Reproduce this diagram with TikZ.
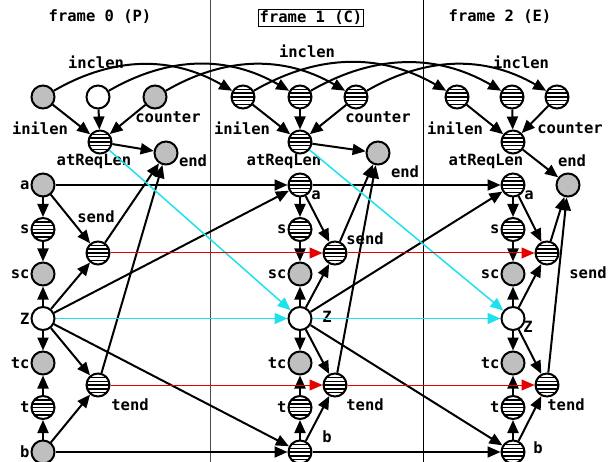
\documentclass[tikz,border=0pt]{standalone}
\usepackage{fontspec}
\setmonofont{DejaVu Sans Mono}
\usetikzlibrary{arrows.meta, positioning}

\definecolor{zcyan}{RGB}{30,225,235}
\definecolor{evred}{RGB}{230,0,0}

\tikzset{
  var/.style = {draw, circle, minimum size = 23pt, inner sep = 0pt, line width = 2pt},
  obs/.style = {var, fill = black!25},
  free/.style = {var, fill = white},
  hid/.style = {var, fill = white, path picture = {
      \foreach \dy in {-7.5, -3.75, 0, 3.75, 7.5}
        \draw [-, line width = 1.5pt] ([yshift = \dy pt] path picture bounding box.west) -- ([yshift = \dy pt] path picture bounding box.east);
    }},
  lbl/.style = {inner sep = 0pt, font = \ttfamily\bfseries\fontsize{15.5}{16}\selectfont},
  persist/.style = {out = 30, in = 150},
  zlink/.style = {zcyan, line width = 1.5pt},
  evlink/.style = {evred, line width = 1pt}
}

\begin{document}
\begin{tikzpicture} [x = 1pt, y = -1pt, -> , >= {Triangle[length = 13pt, width = 11pt]}, line width = 2pt, node distance = 44.5pt]

\useasboundingbox (0,0) rectangle (610,462);

% frame borders
\draw [-, line width = 1pt, black!70] (210,0) -- (210,462);
\draw [-, line width = 1pt] (423,0) -- (423,462);

\node [lbl] (title0) at (100,17) {frame 0 (P)};
\node [lbl, draw, line width = 1pt, inner sep = 1.5pt] (title1) at (311,18) {frame 1 (C)};
\node [lbl] (title2) at (500,17) {frame 2 (E)};

%% frame 0
\node [obs] (inilen0) at (43,97) {};
\node [free] (inclen0) at (98,97) {};
\node [obs] (counter0) at (155,97) {};
\node [hid] (atReqLen0) at (100,142) {};
\node [obs] (end0) at (166,153) {};

\node [obs] (a0) at (43,185) {};
\node [hid] (s0) [below of = a0] {};
\node [obs] (sc0) [below of = s0] {};
\node [free] (Z0) [below of = sc0] {};
\node [obs] (tc0) [below of = Z0] {};
\node [hid] (t0) [below of = tc0] {};
\node [obs] (b0) [below of = t0] {};
\node [hid] (send0) at (98,253) {};
\node [hid] (tend0) at (98,385) {};

%% frame 1
\node [hid] (inilen1) at (243,97) {};
\node [hid] (inclen1) at (300,97) {};
\node [hid] (counter1) at (356,97) {};
\node [hid] (atReqLen1) at (300,142) {};
\node [obs] (end1) at (378,153) {};

\node [hid] (a1) at (300,185) {};
\node [hid] (s1) [below of = a1] {};
\node [obs] (sc1) [below of = s1] {};
\node [free] (Z1) [below of = sc1] {};
\node [obs] (tc1) [below of = Z1] {};
\node [hid] (t1) [below of = tc1] {};
\node [hid] (b1) [below of = t1] {};
\node [hid] (send1) at (335,253) {};
\node [hid] (tend1) at (335,385) {};

%% frame 2
\node [hid] (inilen2) at (457,97) {};
\node [hid] (inclen2) at (512,97) {};
\node [hid] (counter2) at (557,97) {};
\node [hid] (atReqLen2) at (513,142) {};
\node [obs] (end2) at (568,185) {};

\node [hid] (a2) at (513,185) {};
\node [hid] (s2) [below of = a2] {};
\node [obs] (sc2) [below of = s2] {};
\node [free] (Z2) [below of = sc2] {};
\node [obs] (tc2) [below of = Z2] {};
\node [hid] (t2) [below of = tc2] {};
\node [hid] (b2) [below of = t2] {};
\node [hid] (send2) at (547,253) {};
\node [hid] (tend2) at (547,385) {};

%% labels
\node [lbl] (linclen0) at (96,62) {inclen};
\node [lbl] (linilen0) at (40,128) {inilen};
\node [lbl] (lcounter0) at (168,117) {counter};
\node [lbl] (latReqLen0) at (94,161) {atReqLen};
\node [lbl] (lend0) at (193,161) {end};
\node [lbl] (lsend0) at (96,217) {send};
\node [lbl] (ltend0) at (130,405) {tend};
\node [lbl] (la0) [left = 0pt of a0] {a};
\node [lbl] (ls0) [left = 0pt of s0] {s};
\node [lbl] (lsc0) [left = 0pt of sc0] {sc};
\node [lbl] (lZ0) [left = 0pt of Z0] {Z};
\node [lbl] (ltc0) [left = 0pt of tc0] {tc};
\node [lbl] (lt0) [left = 0pt of t0] {t};
\node [lbl] (lb0) [left = 0pt of b0] {b};

\node [lbl] (linclen1) at (307,51) {inclen};
\node [lbl] (linilen1) at (242,128) {inilen};
\node [lbl] (lcounter1) at (378,117) {counter};
\node [lbl] (latReqLen1) at (284,161) {atReqLen};
\node [lbl] (lend1) at (405,172) {end};
\node [lbl] (lsend1) at (365,239) {send};
\node [lbl] (ltend1) at (365,405) {tend};
\node [lbl] (la1) at (316,195) {a};
\node [lbl] (ls1) [left = 0pt of s1] {s};
\node [lbl] (lsc1) [left = 0pt of sc1] {sc};
\node [lbl] (lZ1) at (327,317) {Z};
\node [lbl] (ltc1) [left = 0pt of tc1] {tc};
\node [lbl] (lt1) [left = 0pt of t1] {t};
\node [lbl] (lb1) at (327,437) {b};

\node [lbl] (linclen2) at (521,62) {inclen};
\node [lbl] (linilen2) at (455,128) {inilen};
\node [lbl] (lcounter2) at (570,128) {counter};
\node [lbl] (latReqLen2) at (486,161) {atReqLen};
\node [lbl] (lend2) at (572,161) {end};
\node [lbl] (lsend2) at (588,273) {send};
\node [lbl] (ltend2) at (566,405) {tend};
\node [lbl] (la2) at (529,195) {a};
\node [lbl] (ls2) [left = 0pt of s2] {s};
\node [lbl] (lsc2) [left = 0pt of sc2] {sc};
\node [lbl] (lZ2) at (528,327) {Z};
\node [lbl] (ltc2) [left = 0pt of tc2] {tc};
\node [lbl] (lt2) [left = 0pt of t2] {t};
\node [lbl] (lb2) at (538,448) {b};

%% edges within each frame
\path (inilen0) edge (atReqLen0);
\path (inclen0) edge (atReqLen0);
\path (counter0) edge (atReqLen0);
\path (atReqLen0) edge (end0);
\path (a0) edge (s0);
\path (s0) edge (sc0);
\path (Z0) edge (sc0);
\path (Z0) edge (tc0);
\path (t0) edge (tc0);
\path (b0) edge (t0);
\path (a0) edge (send0);
\path (Z0) edge (send0);
\path (send0) edge (end0);
\path (Z0) edge (tend0);
\path (b0) edge (tend0);
\path (tend0) edge (end0);

\path (inilen1) edge (atReqLen1);
\path (inclen1) edge (atReqLen1);
\path (counter1) edge (atReqLen1);
\path (atReqLen1) edge (end1);
\path (a1) edge (s1);
\path (s1) edge (sc1);
\path (Z1) edge (sc1);
\path (Z1) edge (tc1);
\path (t1) edge (tc1);
\path (b1) edge (t1);
\path (a1) edge (send1);
\path (Z1) edge (send1);
\path (send1) edge (end1);
\path (Z1) edge (tend1);
\path (b1) edge (tend1);
\path (tend1) edge (end1);

\path (inilen2) edge (atReqLen2);
\path (inclen2) edge (atReqLen2);
\path (counter2) edge (atReqLen2);
\path (atReqLen2) edge (end2);
\path (a2) edge (s2);
\path (s2) edge (sc2);
\path (Z2) edge (sc2);
\path (Z2) edge (tc2);
\path (t2) edge (tc2);
\path (b2) edge (t2);
\path (a2) edge (send2);
\path (Z2) edge (send2);
\path (send2) edge (end2);
\path (Z2) edge (tend2);
\path (b2) edge (tend2);
\path (tend2) edge (end2);

%% edges between frames
\path (inilen0) edge [persist] (inilen1);
\path (inclen0) edge [persist] (inclen1);
\path (counter0) edge [persist] (counter1);
\path (a0) edge (a1);
\path (b0) edge (b1);
\path (Z0) edge (a1);
\path (Z0) edge (b1);
\path (Z0) edge [zlink] (Z1);
\path (atReqLen0) edge [zlink] (Z1);
\path (send0) edge [evlink] (send1);
\path (tend0) edge [evlink] (tend1);

\path (inilen1) edge [persist] (inilen2);
\path (inclen1) edge [persist] (inclen2);
\path (counter1) edge [persist] (counter2);
\path (a1) edge (a2);
\path (b1) edge (b2);
\path (Z1) edge (a2);
\path (Z1) edge (b2);
\path (Z1) edge [zlink] (Z2);
\path (atReqLen1) edge [zlink] (Z2);
\path (send1) edge [evlink] (send2);
\path (tend1) edge [evlink] (tend2);

\end{tikzpicture}
\end{document}
